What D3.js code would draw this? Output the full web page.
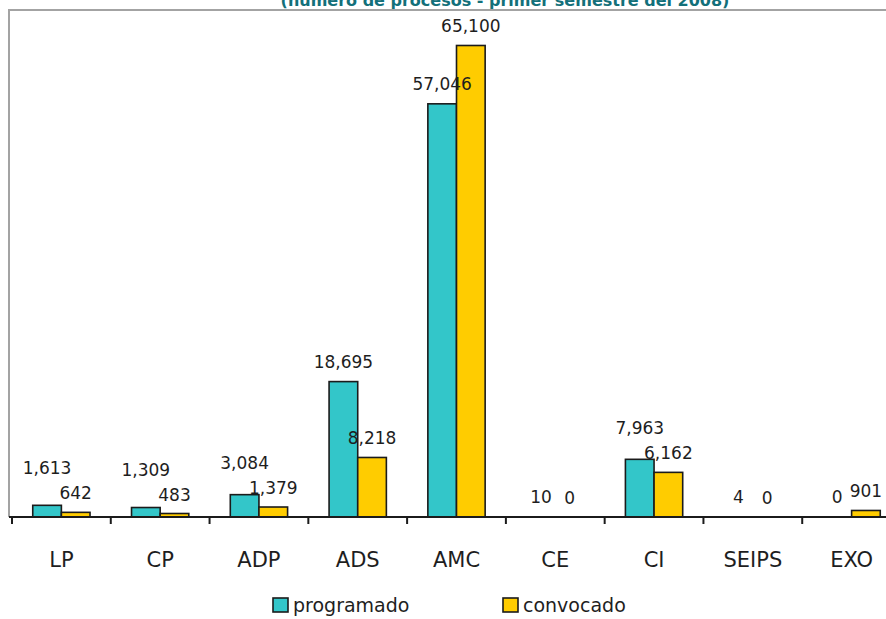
<!DOCTYPE html>
<html>
<head>
<meta charset="utf-8">
<script src="https://cdn.jsdelivr.net/npm/d3@7"></script>
<style>
  html, body { margin: 0; padding: 0; background: #fff; overflow: hidden; }
  text { font-family: 'DejaVu Sans', sans-serif; }
</style>
</head>
<body>
<div id="chart"></div>
<script>
const categories = ['LP', 'CP', 'ADP', 'ADS', 'AMC', 'CE', 'CI', 'SEIPS', 'EXO']
const programado = [1613, 1309, 3084, 18695, 57046, 10, 7963, 4, 0]
const convocado = [642, 483, 1379, 8218, 65100, 0, 6162, 0, 901]
const seriesNames = ['programado', 'convocado']
const title = '(número de procesos - primer semestre del 2008)'

const W = 886, H = 619
const colors = { programado: '#33c6c9', convocado: '#ffcc00' }
const base = 517

const svg = d3.select('#chart').append('svg').attr('width', W).attr('height', H)

// title, cut at the top edge like in the original picture
svg.append('text')
    .attr('x', 505).attr('y', 6)
    .attr('text-anchor', 'middle')
    .attr('fill', '#13707a')
    .attr('font-size', '16px')
    .attr('font-weight', 'bold')
    .text(title)

// plot frame (top + left)
svg.append('path')
    .attr('d', `M9,${base} V10 H${W}`)
    .attr('fill', 'none')
    .attr('stroke', '#a3a3a3')
    .attr('stroke-width', 2)

const x0 = d3.scaleBand()
    .domain(categories)
    .range([12, 901])
    .paddingInner(0.42)
    .paddingOuter(0.21)

const x1 = d3.scaleBand()
    .domain(seriesNames)
    .range([0, x0.bandwidth()])

const y = d3.scaleLinear().domain([0, 70000]).range([base, 10])

const data = categories.map((c, i) => ({
    cat: c,
    values: [
        { key: 'programado', value: programado[i] },
        { key: 'convocado', value: convocado[i] }
    ]
}))

const groups = svg.selectAll('.grp')
    .data(data).enter()
    .append('g')
    .attr('transform', d => `translate(${x0(d.cat)},0)`)

groups.selectAll('rect')
    .data(d => d.values.filter(v => v.value > 0)).enter()
    .append('rect')
    .attr('x', d => x1(d.key))
    .attr('y', d => y(d.value))
    .attr('width', x1.bandwidth())
    .attr('height', d => base - y(d.value))
    .attr('fill', d => colors[d.key])
    .attr('stroke', '#1b1b1b')
    .attr('stroke-width', 1.6)

// value labels, programado label pushed up when it would collide
const fmt = d3.format(',')
const labelSize = 17
groups.each(function (d) {
    const g = d3.select(this)
    const a = d.values[0], b = d.values[1]
    const ca = x1(a.key) + x1.bandwidth() / 2
    const cb = x1(b.key) + x1.bandwidth() / 2
    const wa = fmt(a.value).length * labelSize * 0.6
    const wb = fmt(b.value).length * labelSize * 0.6
    const yb = y(b.value) - 13
    let ya = y(a.value) - 14
    const overlapX = (wa + wb) / 2 > (cb - ca)
    if (overlapX && Math.abs(ya - yb) < 20) ya = Math.min(ya, yb - 25)
    g.append('text').attr('x', ca).attr('y', ya)
        .attr('text-anchor', 'middle').attr('font-size', labelSize + 'px')
        .attr('fill', '#1e1e1e').text(fmt(a.value))
    g.append('text').attr('x', cb).attr('y', yb)
        .attr('text-anchor', 'middle').attr('font-size', labelSize + 'px')
        .attr('fill', '#1e1e1e').text(fmt(b.value))
})

// category axis: baseline with ticks between categories
svg.append('line')
    .attr('x1', 9).attr('x2', W)
    .attr('y1', base).attr('y2', base)
    .attr('stroke', '#1b1b1b').attr('stroke-width', 2)

const step = x0.step()
svg.selectAll('.tick')
    .data(d3.range(categories.length + 1)).enter()
    .append('line')
    .attr('x1', i => x0.range()[0] + i * step)
    .attr('x2', i => x0.range()[0] + i * step)
    .attr('y1', base).attr('y2', base + 7)
    .attr('stroke', '#1b1b1b').attr('stroke-width', 2)

svg.selectAll('.cat-label')
    .data(categories).enter()
    .append('text')
    .attr('x', d => x0(d) + x0.bandwidth() / 2)
    .attr('y', 567)
    .attr('text-anchor', 'middle')
    .attr('font-size', '21px')
    .attr('fill', '#1e1e1e')
    .text(d => d)

// legend
const legendX = [273, 503]
seriesNames.forEach((s, i) => {
    const row = svg.append('g').attr('transform', `translate(${legendX[i]}, 598)`)
    row.append('rect').attr('width', 15).attr('height', 14)
        .attr('fill', colors[s]).attr('stroke', '#1b1b1b').attr('stroke-width', 1.6)
    row.append('text').attr('x', 20).attr('y', 14)
        .attr('fill', '#1e1e1e').attr('font-size', '19px')
        .text(s)
})
</script>
</body>
</html>
